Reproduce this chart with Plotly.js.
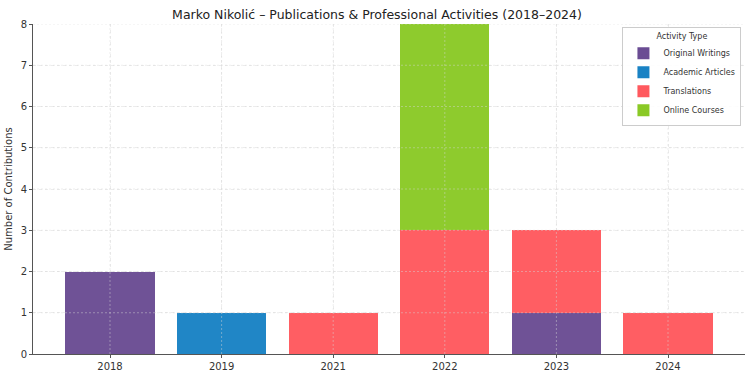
<!DOCTYPE html>
<html>
<head>
<meta charset="utf-8">
<script src="https://cdn.plot.ly/plotly-3.0.1.min.js"></script>
<style>html,body{margin:0;padding:0;background:#fff;}#chart{width:754px;height:377px;}</style>
</head>
<body>
<div id="chart"></div>
<script>
const years = ["2018", "2019", "2021", "2022", "2023", "2024"];
const originalWritings = [2, 0, 0, 0, 1, 0];
const academicArticles = [0, 1, 0, 0, 0, 0];
const translations = [0, 0, 1, 3, 2, 1];
const onlineCourses = [0, 0, 0, 5, 0, 0];
const seriesNames = ["Original Writings", "Academic Articles", "Translations", "Online Courses"];
const seriesColors = ["#6a4c93", "#1982c4", "#ff595e", "#8ac926"];
const seriesValues = [originalWritings, academicArticles, translations, onlineCourses];

const traces = seriesValues.map((vals, i) => ({
  type: 'bar',
  name: seriesNames[i],
  x: years,
  y: vals,
  width: 0.8,
  marker: {color: seriesColors[i], opacity: 0.97, line: {width: 0}},
  hoverinfo: 'x+y+name'
}));

const gridDash = {color: 'rgba(215,215,215,0.45)', width: 1, dash: '2px,2px'};
const shapes = [];
for (let v = 1; v <= 8; v++) {
  shapes.push({type: 'line', xref: 'paper', x0: 0, x1: 1, yref: 'y', y0: v, y1: v, layer: 'above', line: gridDash});
}
years.forEach((y, i) => {
  shapes.push({type: 'line', xref: 'x', x0: i, x1: i, yref: 'paper', y0: 0, y1: 1, layer: 'above', line: gridDash});
});

const layout = {
  width: 754, height: 377,
  margin: {l: 33, r: 9, t: 24, b: 23},
  barmode: 'stack',
  paper_bgcolor: '#fff', plot_bgcolor: '#fff',
  font: {family: 'DejaVu Sans, sans-serif', size: 10, color: '#333'},
  title: {text: 'Marko Nikolić – Publications & Professional Activities (2018–2024)', font: {size: 12.5, color: '#222'}, x: 0.5, xanchor: 'center', y: 0.96, yanchor: 'middle'},
  xaxis: {type: 'category', range: [-0.69, 5.69], showgrid: true, gridcolor: '#ececec', griddash: 'dot', gridwidth: 1, showline: true, linecolor: '#555', linewidth: 1, ticks: 'outside', ticklen: 3, tickcolor: '#555', tickfont: {size: 10, color: '#333'}, zeroline: false},
  yaxis: {range: [0, 8], dtick: 1, showgrid: true, gridcolor: '#ececec', griddash: 'dot', gridwidth: 1, showline: true, linecolor: '#555', linewidth: 1, ticks: 'outside', ticklen: 3, tickcolor: '#555', tickfont: {size: 10, color: '#333'}, zeroline: false,
    title: {text: 'Number of Contributions', font: {size: 10, color: '#333'}, standoff: 6}},
  shapes: shapes,
  legend: {x: 0.995, y: 0.99, xanchor: 'right', yanchor: 'top', bgcolor: 'rgba(255,255,255,0.9)', bordercolor: '#ccc', borderwidth: 1,
    title: {text: 'Activity Type', side: 'top center', font: {size: 8, color: '#333'}}, font: {size: 8, color: '#333'},
    itemwidth: 30, tracegroupgap: 0, traceorder: 'normal'},
  showlegend: true
};

Plotly.newPlot('chart', traces, layout, {displayModeBar: false, staticPlot: true});
</script>
</body>
</html>
